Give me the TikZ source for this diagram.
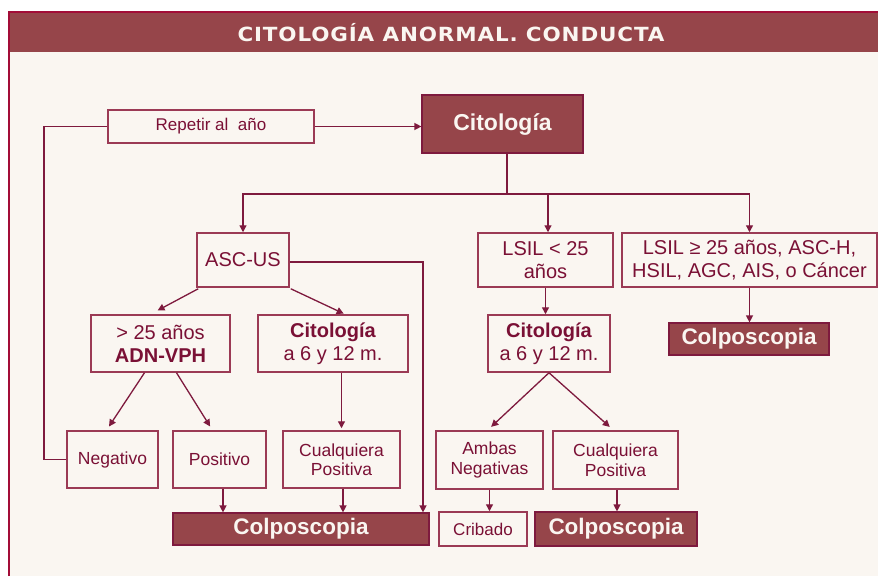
\documentclass[tikz,border=0pt]{standalone}
\usepackage{fontspec}
\setmainfont{Liberation Sans}
\newfontfamily\titlefont[LetterSpace=4]{DejaVu Sans}
\usetikzlibrary{arrows.meta,calc}
\definecolor{cream}{HTML}{FAF6F1}
\definecolor{barfill}{HTML}{96454A}
\definecolor{edgered}{HTML}{A30D37}
\definecolor{txt}{HTML}{7A1035}
\definecolor{boxedge}{HTML}{9B3A55}
\definecolor{lin}{HTML}{7E1A3E}
\begin{document}
\begin{tikzpicture}[x=1pt,y=-1pt,
  box/.style={draw=boxedge,line width=1.5pt,fill=cream,text=txt,align=center,inner sep=0pt},
  dark/.style={draw=lin,line width=1.2pt,fill=barfill,text=cream,align=center,inner sep=0pt,font=\fontsize{22.5}{25}\selectfont\bfseries},
  big/.style={font=\fontsize{20}{23}\selectfont},
  small/.style={font=\fontsize{17.5}{19.5}\selectfont},
  arr/.style={draw=lin,line width=1.3pt,-{Triangle[length=7pt,width=7pt]}},
  ln/.style={draw=lin,line width=1.3pt}]
\useasboundingbox (0,0) rectangle (878,576);
\fill[white] (0,0) rectangle (878,576);
\fill[cream] (8,12) rectangle (878,576);
\fill[barfill] (8,12) rectangle (878,52);
\draw[edgered,line width=2pt] (9,576) -- (9,12) -- (878,12);
\node[text=cream,font=\titlefont\fontsize{19.5}{22}\selectfont\bfseries] (title) at (451,33) {\scalebox{1.1}[1]{CITOLOGÍA ANORMAL. CONDUCTA}};

% nodes
\node[box,minimum width=206pt,minimum height=33pt,font=\fontsize{17}{19}\selectfont] (rep) at (211,126.5) {Repetir al\ \ año};
\node[dark,minimum width=161pt,minimum height=58pt,font=\fontsize{23}{26}\selectfont\bfseries] (cit) at (502.5,124) {Citología};
\node[box,big,minimum width=92pt,minimum height=54pt] (asc) at (243,260) {ASC-US};
\node[box,big,minimum width=135pt,minimum height=54pt] (lsil) at (545.5,260) {LSIL < 25\\años};
\node[box,big,minimum width=255pt,minimum height=54pt] (lsil2) at (749.5,260) {LSIL ≥ 25 años, ASC-H,\\HSIL, AGC, AIS, o Cáncer};
\node[dark,minimum width=160pt,minimum height=32pt] (colpR) at (749,339) {Colposcopia};
\node[box,big,minimum width=139pt,minimum height=57pt] (adn) at (160.5,343.5) {> 25 años\\\textbf{ADN-VPH}};
\node[box,big,minimum width=150pt,minimum height=57pt] (citA) at (333,343.5) {\textbf{Citología}\\a 6 y 12 m.};
\node[box,big,minimum width=122pt,minimum height=57pt] (citL) at (549,343.5) {\textbf{Citología}\\a 6 y 12 m.};
\node[box,small,minimum width=91pt,minimum height=57pt] (neg) at (112.5,459.5) {Negativo};
\node[box,small,minimum width=93pt,minimum height=57pt] (pos) at (219.5,459.5) {Positivo};
\node[box,small,minimum width=117pt,minimum height=57pt] (cualA) at (341.5,459.5) {Cualquiera\\Positiva};
\node[box,small,minimum width=107pt,minimum height=58pt] (ambas) at (489.5,460) {Ambas\\Negativas};
\node[box,small,minimum width=125pt,minimum height=58pt] (cualL) at (615.5,460) {Cualquiera\\Positiva};
\node[dark,minimum width=256pt,minimum height=32pt] (colpA) at (301,529) {Colposcopia};
\node[box,small,font=\fontsize{17}{19}\selectfont,minimum width=88pt,minimum height=34pt] (crib) at (483,529) {Cribado};
\node[dark,minimum width=162pt,minimum height=34pt] (colpB) at (616,529) {Colposcopia};

\coordinate (lft) at (44,126.5);
\coordinate (bus) at (507,194);
\coordinate (ascr) at (423,262);

% connectors
\draw[arr] (rep.east) -- (rep.east -| cit.west);
\draw[ln] (rep.west) -- (lft) |- (neg.west);
\draw[ln] (bus |- cit.south) -- (bus);
\draw[arr] (bus) -| (asc.north);
\draw[arr] (bus) -| ($(lsil.north)+(2.5,0)$);
\draw[arr] (bus) -| (lsil2.north);
\draw[arr] (asc.east |- ascr) -- (ascr) -- (ascr |- colpA.north);
\draw[arr,shorten >=8pt] ($(asc.south west)+(2,1)$) -- ($(adn.north)+(-10,0)$);
\draw[arr,shorten >=1.5pt] ($(asc.south east)+(1,1)$) -- ($(citA.north)+(12,0)$);
\draw[arr,shorten >=4.5pt] ($(adn.south)+(-16,0)$) -- ($(neg.north)+(-6,0)$);
\draw[arr,shorten >=4.5pt] ($(adn.south)+(16,0)$) -- ($(pos.north)+(-7,0)$);
\draw[arr,shorten >=2pt] (cualA.north |- citA.south) -- (cualA.north);
\draw[arr] ($(pos.south)+(3.5,0)$) -- ($(pos.south |- colpA.north)+(3.5,0)$);
\draw[arr] ($(cualA.south)+(1.5,0)$) -- ($(cualA.south |- colpA.north)+(1.5,0)$);
\draw[arr] (lsil.south) -- (lsil.south |- citL.north);
\draw[arr,shorten >=5pt] (citL.south) -- ($(ambas.north)+(-2,0)$);
\draw[arr,shorten >=5pt] (citL.south) -- ($(cualL.north)+(-2,0)$);
\draw[arr] (lsil2.south) -- (lsil2.south |- colpR.north);
\draw[arr] (ambas.south) -- (ambas.south |- crib.north);
\draw[arr] ($(cualL.south)+(1.5,0)$) -- ($(cualL.south |- colpB.north)+(1.5,0)$);
\end{tikzpicture}
\end{document}
